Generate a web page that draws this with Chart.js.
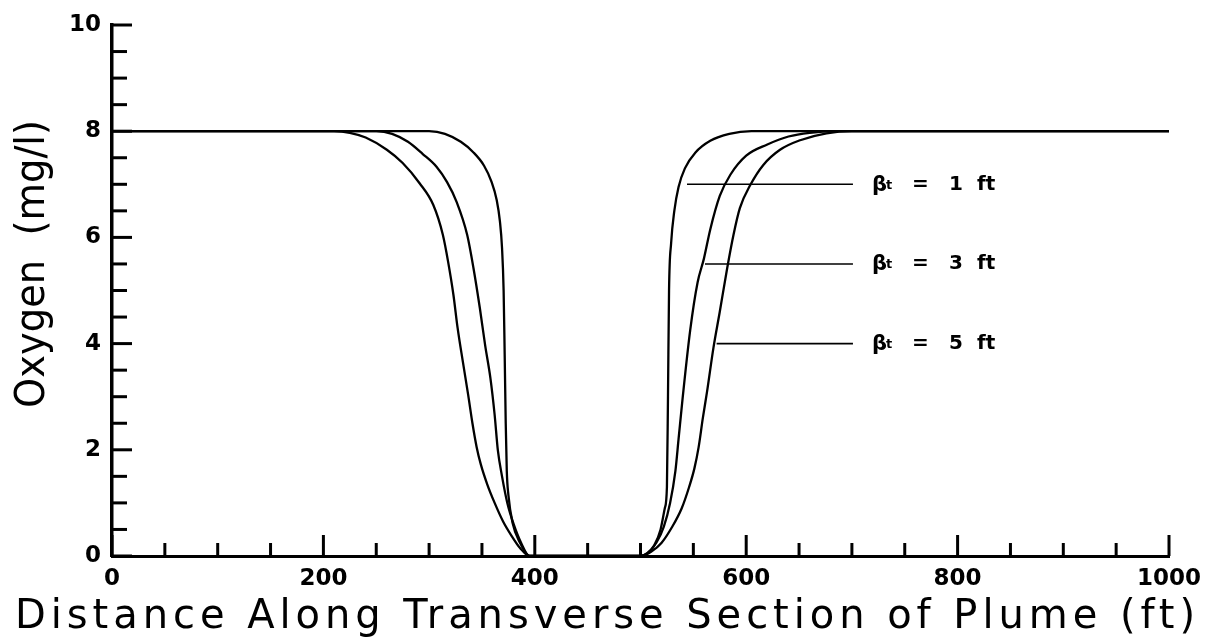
<!DOCTYPE html>
<html>
<head>
<meta charset="utf-8">
<script src="https://cdn.jsdelivr.net/npm/chart.js@4.4.1/dist/chart.umd.min.js"></script>
<style>
html,body{margin:0;padding:0;background:#fff;}
#wrap{width:1219px;height:642px;position:relative;}
</style>
</head>
<body>
<div id="wrap"><canvas id="c"></canvas></div>
<script>
// ---- data ----
const xTitle = 'Distance Along Transverse Section of Plume (ft)';
const yTitle = 'Oxygen  (mg/l)';

const beta1X = [0, 300, 315, 330, 342, 352, 359, 364, 367, 369, 370.5, 371.5, 372.5, 373.5, 375, 379, 386, 395, 500, 506, 513, 519, 523, 525, 526, 527, 529, 532, 536, 542, 552, 566, 584, 605, 1000];
const beta1Y = [8, 8, 7.95, 7.8, 7.6, 7.35, 7.05, 6.7, 6.3, 5.8, 5.0, 3.8, 2.5, 1.6, 1.15, 0.62, 0.25, 0, 0, 0.05, 0.2, 0.5, 0.9, 1.3, 3.0, 5.0, 5.9, 6.5, 6.95, 7.3, 7.6, 7.82, 7.95, 8, 8];

const beta3X = [0, 250, 265, 280, 294, 307, 317, 326, 336, 342, 348, 353, 358, 362, 365, 369, 374, 380, 387, 395, 500, 507, 515, 522, 528, 533, 536, 540, 547, 554, 560, 566, 575, 585, 600, 620, 640, 660, 685, 1000];
const beta3Y = [8, 8, 7.95, 7.8, 7.57, 7.33, 7.04, 6.67, 6.05, 5.42, 4.67, 3.97, 3.35, 2.66, 2.0, 1.5, 1.0, 0.6, 0.25, 0, 0, 0.06, 0.25, 0.55, 1.0, 1.6, 2.2, 3.0, 4.25, 5.15, 5.6, 6.15, 6.78, 7.18, 7.54, 7.75, 7.9, 7.97, 8, 8];

const beta5X = [0, 210, 225, 240, 260, 275, 291, 304, 313, 318, 323, 327, 332, 337, 341, 345, 349, 355, 362, 370, 378, 386, 395, 500, 510, 520, 530, 539, 546, 551, 555, 559, 563, 569, 575, 582, 588, 594, 604, 616, 632, 651, 676, 700, 1000];
const beta5Y = [8, 8, 7.97, 7.88, 7.65, 7.4, 7.02, 6.61, 6.05, 5.54, 4.92, 4.29, 3.65, 3.03, 2.5, 2.05, 1.72, 1.35, 1.0, 0.65, 0.38, 0.15, 0, 0, 0.08, 0.25, 0.55, 0.9, 1.3, 1.65, 2.05, 2.6, 3.1, 3.92, 4.6, 5.42, 6.05, 6.55, 6.99, 7.36, 7.65, 7.83, 7.96, 8, 8];

const labelValues = ['1', '3', '5'];
const labelY = [7, 5.5, 4];
const labelStartX = [544, 561, 572];
const labelEndX = 701;

const xTickStep = 50, xMajorStep = 200;
const yTickStep = 0.5, yMajorStep = 2;

// ---- build datasets ----
function pts(xs, ys){ return xs.map((x, i) => ({x: x, y: ys[i]})); }
const curveStyle = {borderColor:'#000', borderWidth:2.3, pointRadius:0, fill:false, cubicInterpolationMode:'monotone'};
const datasets = [
  Object.assign({label:'β = 1 ft', data: pts(beta1X, beta1Y)}, curveStyle),
  Object.assign({label:'β = 3 ft', data: pts(beta3X, beta3Y)}, curveStyle),
  Object.assign({label:'β = 5 ft', data: pts(beta5X, beta5Y)}, curveStyle)
];
labelValues.forEach((v, i) => {
  datasets.push({label:'leader ' + v, data: [{x: labelStartX[i], y: labelY[i]}, {x: labelEndX, y: labelY[i]}],
    borderColor:'#000', borderWidth:1.6, pointRadius:0, fill:false, tension:0});
});

const FONT = '"DejaVu Sans", sans-serif';

const decor = {
  id: 'decor',
  afterDraw(chart){
    const ctx = chart.ctx, xs = chart.scales.x, ys = chart.scales.y;
    const area = chart.chartArea;
    ctx.save();
    ctx.strokeStyle = '#000';
    ctx.lineCap = 'butt';
    // inward ticks on y axis
    ys.ticks.forEach(t => {
      const py = ys.getPixelForValue(t.value);
      const major = Math.abs(t.value / yMajorStep - Math.round(t.value / yMajorStep)) < 1e-6;
      ctx.lineWidth = 3;
      ctx.beginPath();
      ctx.moveTo(area.left, py);
      ctx.lineTo(area.left + (major ? 20 : 15), py);
      ctx.stroke();
    });
    // inward ticks on x axis
    xs.ticks.forEach(t => {
      const px = xs.getPixelForValue(t.value);
      const major = Math.abs(t.value / xMajorStep - Math.round(t.value / xMajorStep)) < 1e-6;
      ctx.lineWidth = 3;
      ctx.beginPath();
      ctx.moveTo(px, area.bottom);
      ctx.lineTo(px, area.bottom - (major ? 21 : 13));
      ctx.stroke();
    });
    // curve labels
    ctx.fillStyle = '#000';
    ctx.textBaseline = 'middle';
    labelValues.forEach((v, i) => {
      const x0 = xs.getPixelForValue(labelEndX);
      const y0 = ys.getPixelForValue(labelY[i]);
      ctx.textAlign = 'left';
      ctx.font = 'bold 21px ' + FONT;
      ctx.fillText('β', x0 + 19, y0 + 1);
      ctx.font = 'bold 13px ' + FONT;
      ctx.fillText('t', x0 + 33, y0 + 1);
      ctx.font = 'bold 20px ' + FONT;
      ctx.fillText('=', x0 + 59, y0);
      ctx.fillText(v, x0 + 96, y0);
      ctx.fillText('ft', x0 + 124, y0);
    });
    // axis titles
    ctx.font = '40px ' + FONT;
    ctx.textAlign = 'left';
    ctx.textBaseline = 'alphabetic';
    const targetW = 1180;
    const w = ctx.measureText(xTitle).width;
    const sp = (targetW - w) / (xTitle.length - 1);
    if ('letterSpacing' in ctx) { ctx.letterSpacing = sp + 'px'; ctx.fillText(xTitle, 15, 628); ctx.letterSpacing = '0px'; }
    else { ctx.save(); ctx.translate(15, 628); ctx.scale(targetW / w, 1); ctx.fillText(xTitle, 0, 0); ctx.restore(); }

    ctx.save();
    ctx.font = '40px ' + FONT;
    ctx.translate(44, 264);
    ctx.rotate(-Math.PI / 2);
    ctx.textAlign = 'center';
    const wy = ctx.measureText(yTitle).width;
    const targetY = 288;
    const spy = (targetY - wy) / (yTitle.length - 1);
    if ('letterSpacing' in ctx && spy > 0) { ctx.letterSpacing = spy + 'px'; ctx.fillText(yTitle, spy / 2, 0); ctx.letterSpacing = '0px'; }
    else { ctx.scale(targetY / wy, 1); ctx.fillText(yTitle, 0, 0); }
    ctx.restore();
    ctx.restore();
  }
};

new Chart(document.getElementById('c'), {
  type: 'line',
  data: { datasets: datasets },
  options: {
    responsive: true,
    maintainAspectRatio: false,
    animation: false,
    layout: { padding: { left: 0, right: 50, top: 25, bottom: 0 } },
    plugins: { legend: { display: false }, tooltip: { enabled: false }, title: { display: false } },
    scales: {
      x: {
        type: 'linear', min: 0, max: 1000,
        afterFit(s){ s.height = 86; },
        grid: { display: true, drawOnChartArea: false, drawTicks: false },
        border: { display: true, color: '#000', width: 3 },
        ticks: {
          stepSize: xTickStep, autoSkip: false, maxRotation: 0, padding: 9,
          color: '#000', font: { family: FONT, size: 23, weight: 'bold' },
          callback: v => (v % xMajorStep === 0 ? String(v) : '')
        }
      },
      y: {
        type: 'linear', min: 0, max: 10,
        afterFit(s){ s.width = 112; },
        grid: { display: true, drawOnChartArea: false, drawTicks: false },
        border: { display: true, color: '#000', width: 3.5 },
        ticks: {
          stepSize: yTickStep, autoSkip: false, padding: 11,
          color: '#000', font: { family: FONT, size: 23, weight: 'bold' },
          callback: v => (Math.abs(v % yMajorStep) < 1e-6 ? String(v) : '')
        }
      }
    }
  },
  plugins: [decor]
});
</script>
</body>
</html>
